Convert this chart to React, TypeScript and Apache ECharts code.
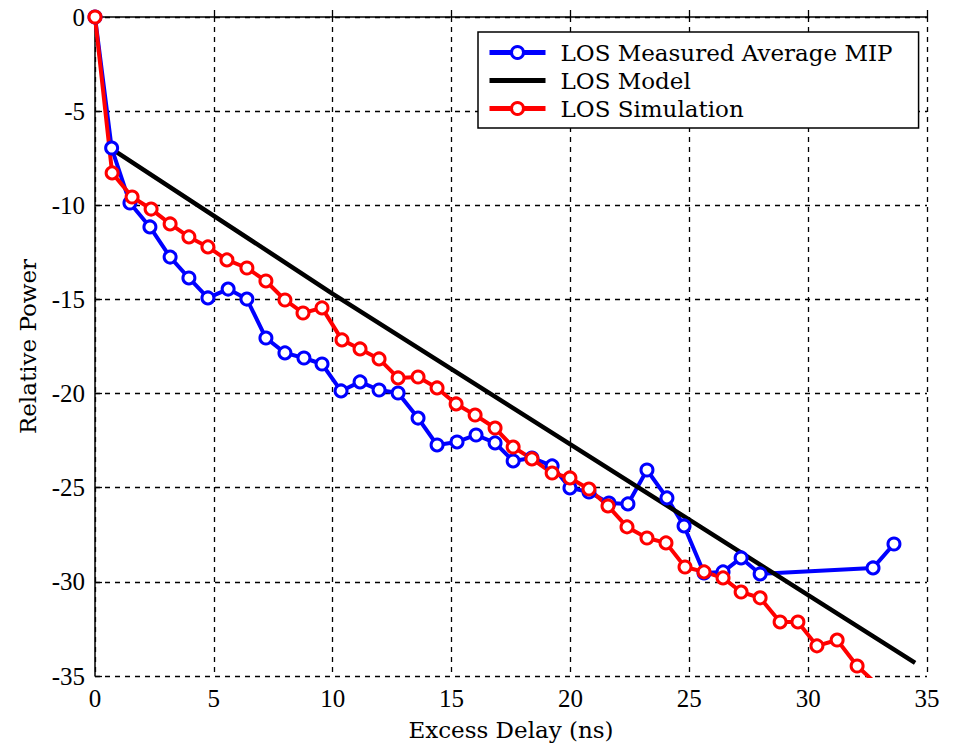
import React, { useEffect, useRef } from "react";
import * as echarts from "echarts";

const xTicks = [0, 5, 10, 15, 20, 25, 30, 35];
const yTicks = [-35, -30, -25, -20, -15, -10, -5, 0];

const measuredX = [0, 0.7, 1.47, 2.31, 3.16, 3.95, 4.75, 5.6, 6.39, 7.19, 7.99, 8.79, 9.55, 10.35, 11.15, 11.95, 12.75, 13.59, 14.39, 15.23, 16.03, 16.83, 17.59, 18.38, 19.23, 19.98, 20.78, 21.62, 22.42, 23.22, 24.06, 24.78, 25.62, 26.42, 27.18, 27.98, 32.73, 33.61];
const measuredY = [0, -6.96, -9.88, -11.15, -12.75, -13.86, -14.92, -14.45, -14.98, -17.05, -17.84, -18.11, -18.43, -19.86, -19.38, -19.81, -19.97, -21.3, -22.73, -22.57, -22.2, -22.62, -23.58, -23.42, -23.84, -25.01, -25.23, -25.81, -25.86, -24.06, -25.54, -27.03, -29.53, -29.47, -28.73, -29.58, -29.26, -27.99];

const modelX = [0.7, 10, 34.5];
const modelY = [-7.0, -14.7, -34.3];

const simX = [0, 0.72, 1.56, 2.36, 3.16, 3.95, 4.75, 5.55, 6.39, 7.19, 7.99, 8.75, 9.55, 10.39, 11.15, 11.95, 12.75, 13.59, 14.39, 15.19, 15.99, 16.83, 17.59, 18.38, 19.23, 19.98, 20.78, 21.58, 22.38, 23.22, 24.02, 24.82, 25.62, 26.42, 27.18, 27.98, 28.82, 29.57, 30.37, 31.22, 32.06, 32.86];
const simY = [0, -8.28, -9.56, -10.2, -10.99, -11.68, -12.21, -12.9, -13.33, -14.02, -15.03, -15.72, -15.45, -17.15, -17.63, -18.16, -19.17, -19.12, -19.7, -20.55, -21.14, -21.83, -22.84, -23.47, -24.22, -24.48, -25.07, -25.97, -27.08, -27.67, -27.93, -29.21, -29.47, -29.79, -30.54, -30.85, -32.13, -32.13, -33.4, -33.09, -34.47, -35.4];

const seriesNames = ["LOS Measured Average MIP", "LOS Model", "LOS Simulation"];

const zip = (xs: number[], ys: number[]) => xs.map((x, i) => [x, ys[i]]);

export default function App() {
  const ref = useRef<HTMLDivElement>(null);
  useEffect(() => {
    if (!ref.current) return;
    const chart = echarts.init(ref.current, undefined, { renderer: "svg" });
    const tickFont = { fontFamily: "Liberation Serif", fontSize: 25, color: "#000" };
    const nameFont = { fontFamily: "DejaVu Serif", fontSize: 23, color: "#000" };
    const gridLine = () => ({ show: true, lineStyle: { color: "#000", type: [5, 5] as any, width: 1.3 } });
    const markerSeries = (name: string, data: number[][], color: string) => ({
      name,
      type: "line",
      data,
      symbol: "circle",
      symbolSize: 12,
      showSymbol: true,
      lineStyle: { color, width: 4, type: "solid" },
      itemStyle: { color: "#fff", borderColor: color, borderWidth: 3 },
      clip: true,
    });
    chart.setOption({
      animation: false,
      backgroundColor: "#fff",
      grid: { left: 95, right: 27, top: 17, bottom: 72, containLabel: false },
      legend: {
        orient: "vertical",
        left: 478,
        top: 32,
        padding: [9, 26, 8, 9],
        itemWidth: 56,
        itemHeight: 15,
        itemGap: 5,
        borderColor: "#000",
        borderWidth: 1.5,
        backgroundColor: "#fff",
        borderRadius: 0,
        lineStyle: { width: 5 },
        itemStyle: { borderWidth: 3 },
        data: [
          { name: seriesNames[0] },
          { name: seriesNames[1], icon: "path://M0,0h56v5h-56z", itemStyle: { color: "#000", borderWidth: 0 } },
          { name: seriesNames[2] },
        ],
        textStyle: { ...nameFont, padding: [0, 0, 0, 10] },
      },
      xAxis: {
        type: "value",
        min: 0,
        max: 35,
        interval: 5,
        name: "Excess Delay (ns)",
        nameLocation: "middle",
        nameGap: 42,
        nameTextStyle: nameFont,
        axisLine: { show: true, lineStyle: { color: "#000", width: 1.5 } },
        axisTick: { show: true, inside: true, length: 7, lineStyle: { color: "#000", width: 1.3 } },
        axisLabel: { ...tickFont, margin: 10, formatter: (v: number) => (xTicks.includes(v) ? String(v) : "") },
        splitLine: gridLine(),
      },
      yAxis: {
        type: "value",
        min: -35,
        max: 0,
        interval: 5,
        name: "Relative Power",
        nameLocation: "middle",
        nameGap: 56,
        nameRotate: 90,
        nameTextStyle: nameFont,
        axisLine: { show: true, lineStyle: { color: "#000", width: 1.5 } },
        axisTick: { show: true, inside: true, length: 7, lineStyle: { color: "#000", width: 1.3 } },
        axisLabel: { ...tickFont, margin: 10, formatter: (v: number) => (yTicks.includes(v) ? String(v) : "") },
        splitLine: gridLine(),
      },
      series: [
        markerSeries(seriesNames[0], zip(measuredX, measuredY), "#0000ff"),
        {
          name: seriesNames[1],
          type: "line",
          data: zip(modelX, modelY),
          symbol: "none",
          lineStyle: { color: "#000", width: 4.5, type: "solid" },
          itemStyle: { color: "#000" },
        },
        markerSeries(seriesNames[2], zip(simX, simY), "#ff0000"),
      ],
    });
    return () => chart.dispose();
  }, []);
  return <div ref={ref} style={{ width: 954, height: 748, position: "absolute", left: 0, top: 0 }} />;
}
